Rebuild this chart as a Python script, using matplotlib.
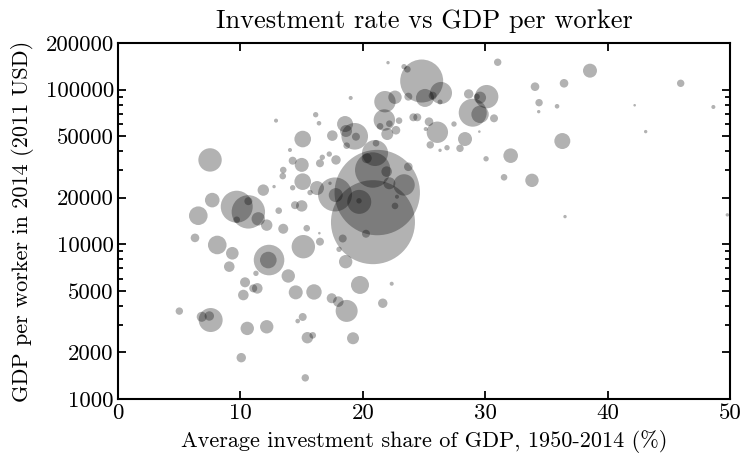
import matplotlib
matplotlib.use("Agg")
import matplotlib.pyplot as plt
from matplotlib.ticker import FixedLocator, NullFormatter, FuncFormatter, LogLocator

plt.rcParams["font.family"] = ["cmr10", "DejaVu Serif"]
plt.rcParams["mathtext.fontset"] = "cm"
plt.rcParams["axes.formatter.use_mathtext"] = True
plt.rcParams["axes.unicode_minus"] = False

# Average investment share of GDP 1950-2014 (%)
invest = [
    5.01, 6.84, 7.46, 7.57, 10.56, 12.15, 10.07, 6.29, 6.56, 7.70,
    7.52, 9.70, 10.65, 10.65, 9.70, 11.46, 12.15, 8.11, 9.34, 9.09,
    12.34, 12.28, 11.27, 10.38, 10.24, 11.05, 11.38, 11.87, 12.75, 12.91,
    13.13, 13.50, 13.91, 14.52, 16.01, 15.09, 14.68, 15.47, 15.91, 15.30,
    14.46, 15.01, 15.42, 15.14, 16.50, 16.45, 14.27, 15.01, 13.50, 13.46,
    15.09, 14.27, 14.05, 15.09, 16.15, 16.42, 15.69, 16.26, 16.50, 17.26,
    17.81, 16.69, 17.51, 17.32, 18.55, 18.63, 19.34, 18.68, 19.01, 17.73,
    17.79, 19.71, 19.69, 20.81, 21.00, 20.32, 21.18, 20.83, 23.37, 23.72,
    21.95, 22.17, 22.63, 22.79, 20.26, 18.36, 18.06, 18.60, 19.77, 22.36,
    17.46, 18.00, 18.68, 21.63, 19.20, 21.08, 21.76, 22.17, 21.41, 22.71,
    22.00, 22.96, 21.81, 22.63, 23.72, 24.81, 22.06, 23.37, 23.64, 24.13,
    24.45, 19.44, 25.08, 25.71, 26.39, 26.31, 26.09, 25.41, 25.14, 25.51,
    26.31, 26.88, 27.45, 27.94, 28.35, 28.65, 30.12, 29.58, 29.31, 28.98,
    29.58, 30.72, 29.52, 31.02, 30.07, 32.08, 31.54, 33.82, 34.07, 36.44,
    34.40, 34.37, 35.87, 36.30, 38.56, 45.97, 42.21, 48.64, 43.11, 36.52,
    49.78,
]

# GDP per worker in 2014 (2011 USD)
gdp_per_worker = [
    3700, 3400, 3440, 3240, 2860, 2930, 1850, 11000, 15300, 19300,
    35100, 17500, 16200, 19000, 14400, 14600, 13300, 9900, 8750, 7170,
    7910, 7910, 6490, 5680, 4700, 5190, 5190, 22400, 23600, 63000,
    16500, 12600, 6240, 4890, 4920, 3390, 3190, 2490, 2580, 1370,
    17900, 17700, 12700, 9650, 10400, 11800, 34700, 32600, 30200, 27600,
    25400, 23200, 40700, 47900, 68800, 60600, 21600, 23100, 33400, 38300,
    35100, 36500, 50400, 24800, 59900, 54000, 49900, 43400, 88300, 21000,
    20800, 18800, 19100, 30200, 38900, 36000, 21600, 13900, 24200, 31700,
    29500, 24800, 17700, 20300, 11700, 10900, 9280, 7720, 5460, 5560,
    4480, 4260, 3710, 4160, 2470, 45000, 63600, 60200, 57900, 54600,
    51600, 63000, 83500, 89200, 90000, 113600, 149300, 140600, 135300, 66200,
    66200, 49600, 88300, 91300, 95100, 83100, 53000, 62000, 55600, 43900,
    40500, 42100, 59900, 41700, 47900, 93700, 90000, 88700, 90000, 70900,
    69200, 65200, 53500, 150200, 35700, 37400, 27100, 25900, 104400, 109800,
    82300, 72000, 78000, 46500, 132500, 109800, 79200, 77200, 53500, 15100,
    15500,
]

# Number of workers (millions), sets bubble area
workers = [
    5.7, 10.4, 9.2, 59.7, 18.6, 18.6, 9.2, 7.7, 35.9, 22.1,
    56.8, 106.0, 115.7, 6.6, 4.5, 18.6, 13.5, 35.9, 16.5, 11.6,
    97.0, 28.6, 3.0, 10.4, 11.6, 6.6, 11.6, 13.5, 1.2, 1.7,
    4.5, 10.4, 18.6, 20.3, 24.6, 6.6, 2.2, 13.5, 4.5, 5.7,
    6.6, 13.5, 4.5, 56.8, 6.6, 0.7, 6.6, 20.3, 4.5, 4.5,
    28.6, 3.0, 1.7, 28.6, 3.0, 2.2, 3.0, 20.3, 6.6, 3.0,
    9.2, 3.0, 11.6, 1.2, 26.5, 14.9, 73.4, 4.5, 1.7, 119.9,
    20.3, 59.7, 3.0, 129.9, 70.1, 10.4, 756.0, 731.5, 47.5, 7.7,
    11.6, 14.9, 4.5, 1.7, 6.6, 6.6, 3.0, 18.6, 33.6, 1.7,
    10.4, 11.6, 50.2, 9.2, 14.9, 4.5, 47.5, 4.5, 4.5, 7.7,
    14.9, 4.5, 47.5, 18.6, 6.6, 191.7, 1.2, 3.0, 4.5, 6.6,
    6.6, 6.6, 33.6, 6.6, 50.2, 2.6, 47.5, 7.7, 1.7, 5.7,
    1.2, 3.0, 3.0, 5.7, 20.3, 9.2, 56.8, 14.9, 3.7, 81.3,
    31.4, 6.6, 0.7, 5.7, 3.0, 22.1, 4.5, 18.6, 7.7, 7.7,
    5.7, 1.2, 2.2, 26.5, 20.3, 5.7, 0.7, 1.7, 1.2, 1.2,
    1.2,
]

x_ticks = [0, 10, 20, 30, 40, 50]
y_ticks = [1000, 2000, 5000, 10000, 20000, 50000, 100000, 200000]

fig = plt.figure(figsize=(7.44, 4.59), dpi=100)
ax = fig.add_axes([0.1586, 0.1307, 0.8226, 0.7756])

ax.scatter(invest, gdp_per_worker, s=[5 * w for w in workers],
           color="k", alpha=0.3, linewidths=0)

ax.set_yscale("log")
ax.set_xlim(0, 50)
ax.set_ylim(1000, 200000)

ax.xaxis.set_major_locator(FixedLocator(x_ticks))
ax.yaxis.set_major_locator(FixedLocator(y_ticks))
ax.yaxis.set_major_formatter(FuncFormatter(lambda v, p: f"{int(round(v))}"))
ax.yaxis.set_minor_locator(LogLocator(base=10, subs=(3, 4, 6, 7, 8, 9)))
ax.yaxis.set_minor_formatter(NullFormatter())
ax.xaxis.set_major_formatter(FuncFormatter(lambda v, p: f"{int(round(v))}"))

ax.tick_params(which="both", direction="in", top=True, right=True,
               width=1.3, labelsize=16.5, pad=3)
ax.tick_params(which="major", length=6)
ax.tick_params(which="minor", length=3.5)
for sp in ax.spines.values():
    sp.set_linewidth(1.5)

ax.set_title("Investment rate vs GDP per worker", fontsize=19, pad=11)
ax.set_xlabel("Average investment share of GDP, 1950-2014 (%)", fontsize=16,
              labelpad=5)
ax.set_ylabel("GDP per worker in 2014 (2011 USD)", fontsize=16, labelpad=8)

fig.savefig("out.png", dpi=100)
